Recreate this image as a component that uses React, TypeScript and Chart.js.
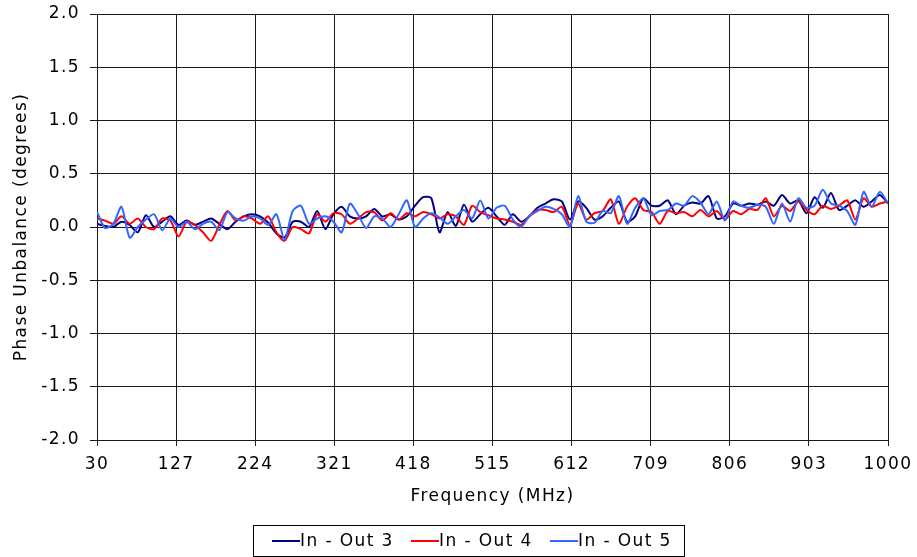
import React, { useEffect, useRef } from "react";
import { Chart, registerables } from "chart.js";

Chart.register(...registerables);

const freqMHz = [
  30, 40, 50, 60, 70, 80, 90, 100, 110, 120, 130, 140, 150, 160, 170, 180, 190, 200, 210, 220,
  230, 240, 250, 260, 270, 280, 290, 300, 310, 320, 330, 340, 350, 360, 370, 380, 390, 400, 410, 420,
  430, 440, 450, 460, 470, 480, 490, 500, 510, 520, 530, 540, 550, 560, 570, 580, 590, 600, 610, 620,
  630, 640, 650, 660, 670, 680, 690, 700, 710, 720, 730, 740, 750, 760, 770, 780, 790, 800, 810, 820,
  830, 840, 850, 860, 870, 880, 890, 900, 910, 920, 930, 940, 950, 960, 970, 980, 990, 1000,
];

const inOut3 = [
  0.03, 0.01, 0.0, 0.05, 0.02, -0.05, 0.11, 0.0, 0.05, 0.1, 0.02, 0.06, 0.02, 0.05, 0.08, 0.03, -0.02, 0.05, 0.1, 0.12,
  0.1, 0.04, -0.06, -0.1, 0.05, 0.05, 0.0, 0.15, -0.02, 0.12, 0.19, 0.1, 0.08, 0.1, 0.17, 0.1, 0.12, 0.07, 0.1, 0.2,
  0.28, 0.27, -0.05, 0.14, 0.01, 0.21, 0.05, 0.12, 0.18, 0.1, 0.02, 0.12, 0.05, 0.1, 0.18, 0.22, 0.26, 0.24, 0.07, 0.24,
  0.18, 0.07, 0.1, 0.18, 0.24, 0.05, 0.1, 0.27, 0.2, 0.2, 0.25, 0.12, 0.2, 0.23, 0.22, 0.29, 0.08, 0.1, 0.22, 0.2,
  0.22, 0.21, 0.24, 0.2, 0.3, 0.22, 0.25, 0.13, 0.28, 0.18, 0.32, 0.16, 0.2, 0.25, 0.19, 0.24, 0.3, 0.22,
];

const inOut4 = [
  0.08, 0.06, 0.03, 0.1, 0.03, 0.08, 0.0, -0.02, 0.08, 0.06, -0.09, 0.05, 0.02, -0.05, -0.13, 0.02, 0.15, 0.06, 0.1, 0.08,
  0.03, 0.1, -0.05, -0.13, 0.0, -0.02, -0.06, 0.12, 0.05, 0.13, 0.12, 0.03, 0.08, 0.14, 0.14, 0.06, 0.13, 0.07, 0.13, 0.1,
  0.14, 0.12, 0.08, 0.12, 0.1, 0.02, 0.2, 0.14, 0.11, 0.08, 0.07, 0.05, 0.02, 0.1, 0.16, 0.16, 0.14, 0.19, 0.02, 0.22,
  0.07, 0.13, 0.15, 0.26, 0.03, 0.19, 0.27, 0.16, 0.14, 0.03, 0.15, 0.13, 0.14, 0.1, 0.16, 0.1, 0.15, 0.07, 0.15, 0.12,
  0.17, 0.16, 0.27, 0.1, 0.2, 0.15, 0.24, 0.16, 0.12, 0.2, 0.17, 0.2, 0.25, 0.07, 0.27, 0.19, 0.22, 0.24,
];

const inOut5 = [
  0.14, -0.01, 0.03, 0.19, -0.1, 0.0, 0.07, 0.12, -0.03, 0.08, 0.0, 0.05, -0.02, 0.03, 0.05, -0.03, 0.14, 0.08, 0.06, 0.1,
  0.08, 0.02, 0.12, -0.12, 0.15, 0.2, 0.03, 0.08, 0.1, 0.05, -0.05, 0.22, 0.12, -0.01, 0.1, 0.08, 0.0, 0.12, 0.25, 0.0,
  0.08, 0.13, 0.09, 0.03, 0.1, 0.16, 0.08, 0.25, 0.08, 0.18, 0.2, 0.07, 0.0, 0.1, 0.15, 0.19, 0.17, 0.12, 0.0, 0.29,
  0.05, 0.04, 0.15, 0.13, 0.29, 0.03, 0.18, 0.27, 0.11, 0.15, 0.16, 0.22, 0.2, 0.29, 0.23, 0.12, 0.24, 0.06, 0.24, 0.2,
  0.18, 0.21, 0.19, 0.03, 0.22, 0.05, 0.27, 0.18, 0.2, 0.35, 0.22, 0.2, 0.15, 0.02, 0.33, 0.19, 0.33, 0.22,
];

const xTickValues = [30, 127, 224, 321, 418, 515, 612, 709, 806, 903, 1000];
const yTickValues = [-2, -1.5, -1, -0.5, 0, 0.5, 1, 1.5, 2];

const seriesNames = ["In - Out 3", "In - Out 4", "In - Out 5"];
const seriesColors = ["#000080", "#FF0000", "#3366FF"];
const seriesValues = [inOut3, inOut4, inOut5];

const FONT_FAMILY = '"DejaVu Sans", Verdana, sans-serif';
const FONT_SIZE = 17;
const LETTER_SPACING = "1.4px";

const spacingPlugin = {
  id: "letterSpacing",
  beforeUpdate(chart: any) {
    chart.ctx.letterSpacing = LETTER_SPACING;
  },
  beforeDraw(chart: any) {
    chart.ctx.letterSpacing = LETTER_SPACING;
  },
};

const boxLegendPlugin = {
  id: "boxLegend",
  afterDraw(chart: any) {
    const ctx = chart.ctx as CanvasRenderingContext2D;
    ctx.save();
    (ctx as any).letterSpacing = LETTER_SPACING;
    ctx.strokeStyle = "#000";
    ctx.lineWidth = 1;
    ctx.strokeRect(253.5, 525.5, 431, 31);
    const starts = [272, 411, 550];
    const y = 541;
    ctx.font = `${FONT_SIZE}px ${FONT_FAMILY}`;
    ctx.textBaseline = "middle";
    ctx.textAlign = "left";
    seriesNames.forEach((name, i) => {
      const x = starts[i];
      ctx.strokeStyle = seriesColors[i];
      ctx.lineWidth = 2;
      ctx.beginPath();
      ctx.moveTo(x, y);
      ctx.lineTo(x + 28, y);
      ctx.stroke();
      ctx.fillStyle = "#000";
      ctx.fillText(name, x + 28, y + 1);
    });
    ctx.restore();
  },
};

export default function App() {
  const canvasRef = useRef<HTMLCanvasElement | null>(null);

  useEffect(() => {
    const canvas = canvasRef.current;
    if (!canvas) return;
    const datasets = seriesValues.map((vals, i) => ({
      label: seriesNames[i],
      data: vals.map((v, j) => ({ x: freqMHz[j], y: v })),
      borderColor: seriesColors[i],
      backgroundColor: seriesColors[i],
      borderWidth: 2,
      pointRadius: 0,
      tension: 0.25,
      fill: false,
      order: 2 - i,
    }));

    const chart = new Chart(canvas, {
      type: "line",
      data: { datasets },
      plugins: [spacingPlugin, boxLegendPlugin],
      options: {
        animation: false,
        responsive: false,
        maintainAspectRatio: false,
        layout: { padding: { left: 0, right: 29, top: 14, bottom: 42 } },
        plugins: {
          legend: { display: false },
          tooltip: { enabled: false },
        },
        scales: {
          x: {
            type: "linear",
            min: 30,
            max: 1000,
            afterBuildTicks: (scale: any) => {
              scale.ticks = xTickValues.map((v) => ({ value: v }));
            },
            afterFit: (scale: any) => {
              scale.height = 75;
              scale.paddingLeft = 0;
              scale.paddingRight = 0;
            },
            ticks: {
              color: "#000",
              font: { family: FONT_FAMILY, size: FONT_SIZE },
              padding: 8,
              maxRotation: 0,
              autoSkip: false,
              callback: (v: any) => String(v),
            },
            grid: { color: "#1a1a1a", lineWidth: 1, tickLength: 6, drawTicks: true },
            border: { color: "#1a1a1a", width: 1 },
            title: {
              display: true,
              text: "Frequency (MHz)",
              color: "#000",
              font: { family: FONT_FAMILY, size: FONT_SIZE },
              padding: { top: 0, bottom: 8 },
            },
          },
          y: {
            type: "linear",
            min: -2,
            max: 2,
            afterBuildTicks: (scale: any) => {
              scale.ticks = yTickValues.map((v) => ({ value: v }));
            },
            afterFit: (scale: any) => {
              scale.width = 97;
              scale.paddingTop = 0;
              scale.paddingBottom = 0;
            },
            ticks: {
              color: "#000",
              font: { family: FONT_FAMILY, size: FONT_SIZE },
              padding: 10,
              callback: (v: any) => Number(v).toFixed(1),
            },
            grid: { color: "#1a1a1a", lineWidth: 1, tickLength: 7, drawTicks: true },
            border: { color: "#1a1a1a", width: 1 },
            title: {
              display: true,
              text: "Phase Unbalance (degrees)",
              color: "#000",
              font: { family: FONT_FAMILY, size: FONT_SIZE },
              padding: { top: 11, bottom: 0 },
            },
          },
        },
      },
    });
    return () => chart.destroy();
  }, []);

  return (
    <div style={{ position: "absolute", left: 0, top: 0, width: 917, height: 557, background: "#fff" }}>
      <canvas ref={canvasRef} width={917} height={557} style={{ display: "block", width: 917, height: 557 }} />
    </div>
  );
}
